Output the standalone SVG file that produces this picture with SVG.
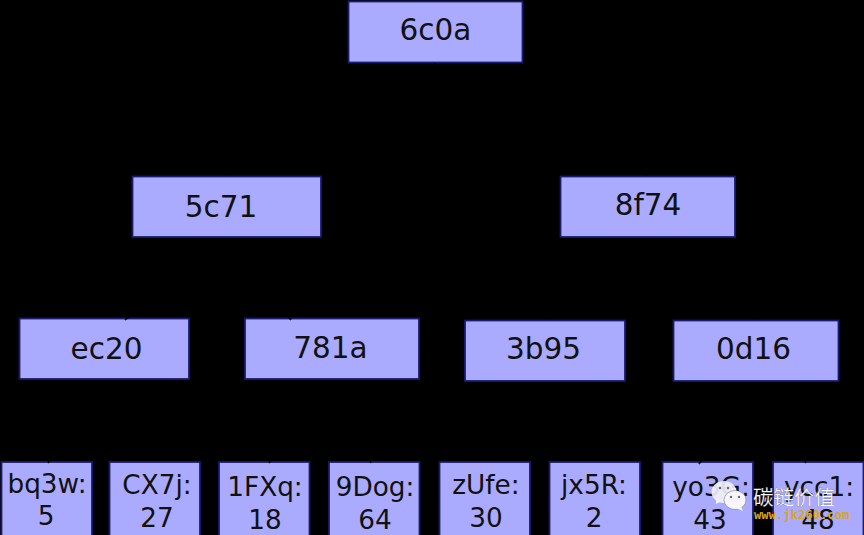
<svg xmlns="http://www.w3.org/2000/svg" width="864" height="535" viewBox="0 0 864 535">
<style>
.n{fill:#aaaaff;stroke:#1a1a6e;stroke-width:1.8}
.t{font-family:"DejaVu Sans",sans-serif;fill:#111;text-anchor:middle}
.a{font-size:29.500px}
.b{font-size:26.300px}
.c{stroke:#000;stroke-width:1.5;fill:none}
</style>
<rect width="864" height="535" fill="#000"/>
<g id="n6c0a"><rect class="n" x="348.500" y="1.500" width="174" height="61"/><text class="t a" x="435.500" y="40">6c0a</text></g>
<g id="n5c71"><rect class="n" x="132.500" y="176.500" width="188.500" height="60.500"/><text class="t a" x="221" y="217">5c71</text></g>
<g id="n8f74"><rect class="n" x="560.500" y="176.500" width="174.500" height="60.500"/><text class="t a" x="648" y="215">8f74</text></g>
<g id="nec20"><rect class="n" x="19.500" y="318.500" width="169.500" height="60.500"/><text class="t a" x="106.500" y="359">ec20</text></g>
<g id="n781a"><rect class="n" x="245" y="318.500" width="174" height="60.500"/><text class="t a" x="330.500" y="358">781a</text></g>
<g id="n3b95"><rect class="n" x="465" y="320.500" width="160" height="60.500"/><text class="t a" x="543.500" y="359">3b95</text></g>
<g id="n0d16"><rect class="n" x="673.500" y="320.500" width="165" height="60.500"/><text class="t a" x="753.500" y="359">0d16</text></g>
<g id="bq3w"><rect class="n" x="1.500" y="462" width="90.500" height="75"/><text class="t b" x="47" y="493">bq3w:</text><text class="t b" x="46" y="525">5</text></g>
<g id="CX7j"><rect class="n" x="109.500" y="462" width="90.500" height="75"/><text class="t b" x="157" y="494">CX7j:</text><text class="t b" x="157" y="527">27</text></g>
<g id="FXq"><rect class="n" x="219" y="462" width="90.500" height="75"/><text class="t b" x="265" y="496">1FXq:</text><text class="t b" x="265" y="529">18</text></g>
<g id="Dog"><rect class="n" x="329" y="462" width="90.500" height="75"/><text class="t b" x="375" y="496">9Dog:</text><text class="t b" x="375" y="529">64</text></g>
<g id="zUfe"><rect class="n" x="439.500" y="462" width="90.500" height="75"/><text class="t b" x="486" y="494">zUfe:</text><text class="t b" x="486" y="527">30</text></g>
<g id="jx5R"><rect class="n" x="549.500" y="462" width="90.500" height="75"/><text class="t b" x="594" y="494">jx5R:</text><text class="t b" x="594" y="527">2</text></g>
<g id="yo3G"><rect class="n" x="662.500" y="462" width="90.500" height="75"/><text class="t b" x="711" y="496">yo3G:</text><text class="t b" x="710" y="529">43</text></g>
<g id="ycc1"><rect class="n" x="773" y="462" width="90.500" height="75"/><text class="t b" x="819" y="496">ycc1:</text><text class="t b" x="818" y="529">48</text></g>
<g id="connectors" class="c">
<path d="M435 64L226 175M435 64L648 175M226 239L125 320M226 239L291 320M648 239L545 319M648 239L755 319"/>
<path d="M105 381L48 463M105 381L155 460M331 381L269 463M331 381L371 463M545 383L485 460M545 383L595 460M755 383L699 464M755 383L806 463"/>
</g>
<g id="watermark">
<ellipse cx="724" cy="492" rx="12.500" ry="11" fill="#f2f2f8" opacity=".9"/>
<path d="M716 499L716 504L722 501Z" fill="#f2f2f8"/>
<ellipse cx="735" cy="500" rx="11" ry="9.500" fill="#f6f6fc" stroke="#666" stroke-width=".5"/>
<path d="M741 506L743 511L736 508Z" fill="#f6f6fc"/>
<circle cx="720" cy="488" r="1.300" fill="#667"/><circle cx="728" cy="488" r="1.300" fill="#667"/>
<circle cx="731" cy="497" r="1.200" fill="#667"/><circle cx="739" cy="497" r="1.200" fill="#667"/>
<text x="753" y="505" font-family="'Noto Sans CJK SC',sans-serif" font-size="20.500" fill="#fff" stroke="#333" stroke-width=".2">碳链价值</text>
<text x="754" y="519" font-family="'DejaVu Sans Mono',monospace" font-size="12.200" font-weight="bold" fill="#d9a520">www.jk260.com</text>
</g>
</svg>
